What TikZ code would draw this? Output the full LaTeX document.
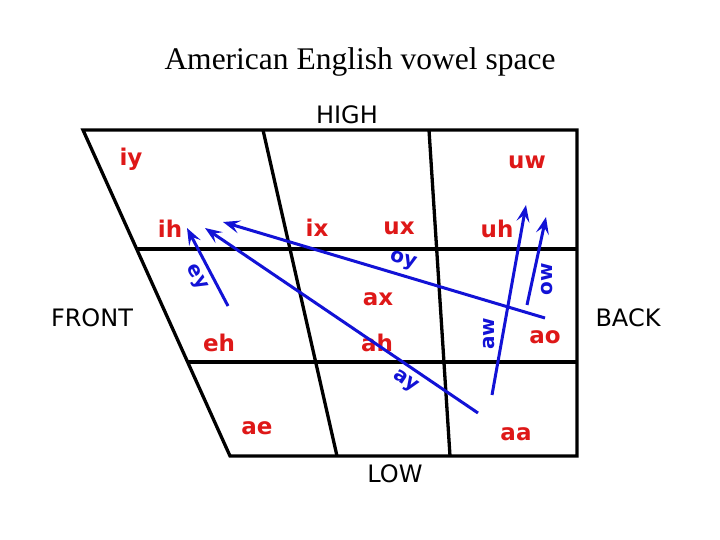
\documentclass[tikz,border=0pt]{standalone}
\usepackage{fontspec}
\setmainfont{Liberation Serif}
\newfontfamily\comicfont{DejaVu Sans}
\usetikzlibrary{calc,arrows.meta}
\definecolor{vowelred}{RGB}{222,24,24}
\definecolor{glideblue}{RGB}{18,18,214}
\tikzset{
  vowel/.style={text=vowelred, font=\comicfont\bfseries\fontsize{23}{23}\selectfont, inner sep=0pt},
  glide/.style={text=glideblue, font=\comicfont\bfseries\fontsize{20}{20}\selectfont, inner sep=0pt},
  side label/.style={font=\comicfont\fontsize{24}{24}\selectfont, inner sep=0pt},
  chart line/.style={line width=3.3pt},
  glide arrow/.style={glideblue, line width=3pt, -{Stealth[length=17pt,width=13pt,inset=7pt]}}
}

\begin{document}
\begin{tikzpicture}[x=1pt,y=-1pt]
\useasboundingbox (0,0) rectangle (720,540);
\node (title) at (360,62) {\fontsize{31.5}{31.5}\selectfont American English vowel space};
\node[side label] (high) at (347,115) {HIGH};
\node[side label] (low) at (395,474) {LOW};
\node[side label] (front) at (92,318) {FRONT};
\node[side label] (back) at (628,318) {BACK};
% chart outline
\coordinate (tl) at (83,130);
\coordinate (tr) at (577,130);
\coordinate (br) at (577,456);
\coordinate (bl) at (230,456);
\draw[chart line, line join=miter] (tl) -- (tr) -- (br) -- (bl) -- cycle;
\draw[chart line] ($(tl)!0.365!(bl)$) -- ($(tr)!0.365!(br)$);
\draw[chart line] ($(tl)!0.712!(bl)$) -- ($(tr)!0.712!(br)$);
\draw[chart line] (263,130) -- (337,456);
\draw[chart line] (429,130) -- (450,456);
% vowels
\node[vowel] (iy) at (131,159) {iy};
\node[vowel] (uw) at (527,162) {uw};
\node[vowel] (ih) at (170,229) {ih};
\node[vowel] (ix) at (317,228) {ix};
\node[vowel] (ux) at (399,228) {ux};
\node[vowel] (uh) at (497,229) {uh};
\node[vowel] (ax) at (378,299) {ax};
\node[vowel] (eh) at (219,343) {eh};
\node[vowel] (ah) at (377,343) {ah};
\node[vowel] (ao) at (545,337) {ao};
\node[vowel] (ae) at (257,428) {ae};
\node[vowel] (aa) at (516,434) {aa};
% diphthongs
\coordinate (ey-on) at (228,306);  \coordinate (ey-off) at (187,228);
\coordinate (ay-on) at (478,413);  \coordinate (ay-off) at (205,228);
\coordinate (oy-on) at (545,318);  \coordinate (oy-off) at (223,222);
\coordinate (aw-on) at (492,395);  \coordinate (aw-off) at (526,205);
\coordinate (ow-on) at (527,305);  \coordinate (ow-off) at (546,217);
\draw[glide arrow] (ey-on) -- (ey-off);
\draw[glide arrow] (ay-on) -- (ay-off);
\draw[glide arrow] (oy-on) -- (oy-off);
\draw[glide arrow] (aw-on) -- (aw-off);
\draw[glide arrow] (ow-on) -- (ow-off);
\node[glide, rotate=-62] (ey) at (196,278) {ey};
\node[glide, rotate=-16] (oy) at (403,261) {oy};
\node[glide, rotate=-34] (ay) at (405,382) {ay};
\node[glide, rotate=90] (aw) at (489,334) {aw};
\node[glide, rotate=90] (ow) at (547,279) {ow};
\end{tikzpicture}
\end{document}
